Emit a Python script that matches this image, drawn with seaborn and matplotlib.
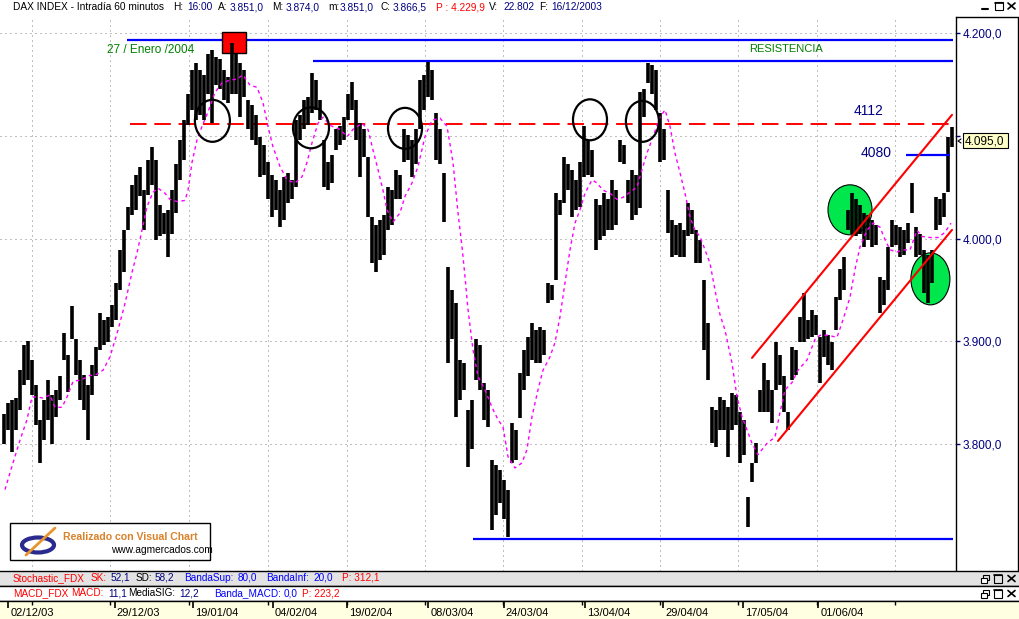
import matplotlib
matplotlib.use("Agg")
import matplotlib.pyplot as plt
import seaborn as sns
import numpy as np
from matplotlib.patches import Ellipse, Rectangle
from matplotlib.lines import Line2D

# ---------------- data (hourly bars) ----------------
bar_high = [
    3829, 3840, 3843, 3845, 3872, 3897, 3900, 3882, 3858, 3824,
    3843, 3863, 3848, 3853, 3866, 3908, 3887, 3934, 3902, 3882,
    3867, 3858, 3877, 3895, 3928, 3921, 3924, 3935, 3957, 3989,
    4008, 4031, 4052, 4062, 4070, 4047, 4076, 4089, 4076, 4033,
    4025, 4028, 4047, 4072, 4096, 4115, 4140, 4164, 4171, 4164,
    4159, 4179, 4183, 4176, 4174, 4164, 4157, 4190, 4179, 4171,
    4164, 4135, 4130, 4120, 4099, 4091, 4074, 4062, 4057, 4047,
    4060, 4064, 4057, 4115, 4120, 4135, 4138, 4161, 4154, 4135,
    4096, 4074, 4081, 4106, 4109, 4118, 4140, 4152, 4135, 4112,
    4106, 4079, 4021, 4013, 4018, 4023, 4050, 4047, 4067, 4062,
    4106, 4101, 4096, 4106, 4154, 4159, 4172, 4164, 4122, 4106,
    4064, 3972, 3950, 3937, 3882, 3879, 3833, 3843, 3902, 3897,
    3860, 3853, 3785, 3780, 3775, 3765, 3756, 3821, 3814, 3869,
    3892, 3904, 3918, 3911, 3914, 3911, 3957, 3955, 4044, 4037,
    4079, 4072, 4067, 4057, 4074, 4109, 4096, 4086, 4038, 4033,
    4044, 4038, 4057, 4047, 4096, 4091, 4057, 4067, 4062, 4142,
    4145, 4171, 4169, 4164, 4122, 4106, 4047, 4018, 4013, 4015,
    4008, 4035, 4028, 4008, 3999, 3960, 3918, 3836, 3833, 3846,
    3843, 3836, 3850, 3848, 3831, 3824, 3749, 3782, 3801, 3853,
    3879, 3863, 3853, 3899, 3887, 3866, 3831, 3895, 3892, 3924,
    3947, 3921, 3931, 3926, 3904, 3911, 3906, 3899, 3943, 3970,
    3982, 4028, 4044, 4038, 4033, 4025, 4023, 4018, 4013, 3963,
    3960, 3992, 4018, 4013, 4011, 4008, 4015, 4054, 4011, 4004,
    3989, 3984, 3989, 4040, 4038, 4044, 4099, 4108,
]
bar_low = [
    3800, 3814, 3793, 3814, 3833, 3858, 3863, 3848, 3819, 3782,
    3804, 3824, 3800, 3827, 3843, 3882, 3851, 3902, 3867, 3843,
    3833, 3804, 3848, 3866, 3892, 3897, 3899, 3914, 3921, 3950,
    3967, 4008, 4023, 4028, 4041, 4008, 4042, 4052, 3999, 4002,
    4004, 3982, 4004, 4025, 4057, 4076, 4110, 4125, 4115, 4120,
    4115, 4140, 4112, 4149, 4145, 4135, 4132, 4140, 4140, 4118,
    4138, 4106, 4096, 4091, 4060, 4062, 4038, 4021, 4028, 4011,
    4018, 4035, 4038, 4050, 4096, 4106, 4110, 4122, 4125, 4115,
    4050, 4047, 4054, 4086, 4091, 4096, 4115, 4125, 4096, 4060,
    4079, 4021, 3976, 3967, 3979, 3984, 4008, 4013, 4038, 4038,
    4074, 4076, 4060, 4072, 4106, 4125, 4138, 4135, 4076, 4072,
    4016, 3879, 3902, 3827, 3843, 3853, 3778, 3795, 3863, 3853,
    3824, 3817, 3717, 3731, 3743, 3727, 3710, 3782, 3785, 3826,
    3853, 3866, 3882, 3879, 3879, 3887, 3937, 3940, 3960, 4023,
    4035, 4047, 4021, 4028, 4031, 4060, 4062, 4060, 3989, 3999,
    4002, 4008, 4008, 4013, 4074, 4072, 4035, 4018, 4023, 4030,
    4118, 4151, 4140, 4125, 4074, 4076, 4005, 3982, 3984, 3982,
    3982, 4002, 4004, 3976, 3976, 3892, 3863, 3801, 3797, 3814,
    3814, 3788, 3814, 3819, 3782, 3790, 3720, 3763, 3782, 3831,
    3831, 3831, 3821, 3853, 3858, 3831, 3814, 3863, 3867, 3899,
    3899, 3902, 3904, 3906, 3860, 3885, 3877, 3872, 3911, 3940,
    3950, 4008, 4004, 4002, 4004, 3992, 3999, 3992, 3994, 3928,
    3935, 3950, 3992, 3994, 3982, 3984, 3996, 4025, 3982, 3984,
    3947, 3937, 3957, 4008, 4013, 4021, 4045, 4089,
]

# moving average (magenta dotted), position in bar units
ma_pos = [
    0.25, 2.25, 4, 5.75, 7, 8.25, 9.75, 11.5, 12.75, 14.5,
    15.75, 17.25, 19.5, 21.5, 22.75, 24.75, 26.5, 28.5, 30.25, 32,
    33.25, 34.5, 35.75, 37.25, 38.5, 40.25, 41.5, 43.25, 45.25, 46,
    47, 48.25, 49.5, 51, 52.75, 54.5, 56.5, 58.25, 59.75, 61.5,
    63.25, 64.75, 66, 67.25, 69, 70.75, 72.75, 74.5, 75.75, 77,
    78.5, 79.75, 81.5, 84, 85.75, 87.25, 89.5, 91, 92.25, 93.5,
    94.75, 95.75, 97.25, 99, 100.25, 102, 103.5, 105.25, 107, 109,
    110.75, 112.25, 113.5, 114.5, 115.25, 116, 117.25, 118.5, 120.25, 122,
    123.5, 124.75, 126, 127.75, 129.5, 130.75, 132, 133.5, 134.75, 136.5,
    137.75, 139, 140.25, 141.5, 142.75, 144, 145.25, 147, 148.25, 149.75,
    151.5, 153.25, 154.75, 156.5, 158.25, 159.5, 160.75, 162.25, 164, 165.25,
    166.5, 167.75, 169, 170.25, 171.5, 172.75, 174, 175.25, 176.5, 177.75,
    179, 180.25, 182, 183.25, 184.5, 185.75, 187, 188.5, 190.75, 192.75,
    194, 195.25, 197, 198.5, 200.75, 202.75, 204, 206, 208.25, 209.75,
    211.5, 212.75, 214, 215.75, 217.25, 219, 220.25, 221.5, 223.25, 224.75,
    226.5, 228.25, 229.5, 231.5, 233.5, 235.25, 236.75,
]
ma_val = [
    3756, 3782, 3804, 3824, 3846, 3846, 3845, 3848, 3836, 3836,
    3846, 3861, 3863, 3867, 3867, 3872, 3885, 3911, 3937, 3967,
    3986, 4008, 4031, 4045, 4049, 4044, 4038, 4036, 4037, 4047,
    4074, 4096, 4109, 4123, 4142, 4151, 4154, 4155, 4159, 4149,
    4147, 4132, 4109, 4089, 4070, 4057, 4054, 4060, 4074, 4093,
    4112, 4118, 4110, 4106, 4099, 4106, 4112, 4106, 4086, 4067,
    4047, 4028, 4016, 4025, 4041, 4054, 4070, 4099, 4115, 4117,
    4109, 4074, 4025, 3992, 3963, 3931, 3892, 3866, 3853, 3836,
    3824, 3817, 3788, 3777, 3782, 3795, 3827, 3853, 3872, 3885,
    3899, 3924, 3957, 3989, 4015, 4028, 4044, 4057, 4054, 4047,
    4044, 4038, 4040, 4045, 4050, 4067, 4083, 4099, 4118, 4125,
    4109, 4083, 4064, 4044, 4021, 4008, 4002, 3989, 3976, 3950,
    3926, 3911, 3879, 3846, 3827, 3814, 3801, 3790, 3801, 3807,
    3831, 3853, 3860, 3872, 3882, 3902, 3906, 3906, 3904, 3921,
    3943, 3970, 3992, 4008, 4015, 4011, 3999, 3989, 3987, 3989,
    3989, 4008, 4002, 4001, 4001, 4006, 4015,
]

price_ticks = [3800, 3900, 4000, 4100, 4200]
price_labels = ["3.800,0", "3.900,0", "4.000,0", "", "4.200,0"]  # 4.100,0 hidden under the last-price box
last_price = "4.095,0"

date_pos = [1.1, 27.75, 47.3, 67.3, 85.7, 106.1, 125, 145.25, 164.8, 184.8, 203.6]
date_labels = ["02/12/03", "29/12/03", "19/01/04", "04/02/04", "19/02/04",
               "08/03/04", "24/03/04", "13/04/04", "29/04/04", "17/05/04", "01/06/04"]
grid_pos = [7, 26.5, 46.25, 66, 85.75, 105.25, 124.75, 144.5, 164, 183.5, 203.25, 222.75]

# annotation levels
res_top = 4193          # upper blue line
res_mid = 4173          # RESISTENCIA
level_4112 = 4111.5     # red dashed
support = 3708          # bottom blue line
level_4080 = 4081.5

# ---------------- style ----------------
sns.set_theme(style="white")
plt.rcParams['font.family'] = ['Liberation Sans', 'DejaVu Sans']

W, H = 1020, 619
fig = plt.figure(figsize=(W / 100, H / 100), dpi=100)
fig.patch.set_facecolor('white')


def fx(px):
    return px / W


def fy(py):
    return 1 - py / H


def ftext(px, py, s, **kw):
    kw.setdefault('va', 'center')
    kw.setdefault('ha', 'left')
    fig.text(fx(px), fy(py), s, **kw)


NAVY = '#000080'
RED = '#FF0000'
BLUE = '#0000FF'
GREEN = '#008000'

# ---------------- main price panel ----------------
ax = fig.add_axes([0, fy(571), 956 / W, (571 - 17) / H])
ax.set_facecolor('white')
ax.set_xlim(-1, 238)
ax.set_ylim(3676.9, 4215.3)

for g in grid_pos:
    ax.axvline(g, color='#808080', lw=0.72, ls=(0, (1, 4)), zorder=0)
for p in price_ticks:
    ax.axhline(p, color='#808080', lw=0.72, ls=(0, (1, 4)), zorder=0)

# horizontal levels
ax.hlines(res_top, 30.75, 237.25, color=BLUE, lw=1.6, zorder=1)
ax.hlines(res_mid, 77.25, 237.25, color=BLUE, lw=1.6, zorder=1)
ax.hlines(support, 117.25, 237.25, color=BLUE, lw=1.6, zorder=1)
ax.hlines(level_4080, 225.4, 236.5, color=BLUE, lw=1.6, zorder=6)
ax.hlines(level_4112, 31.5, 237.25, color=RED, lw=1.4, linestyles=[(0, (8.5, 4))], zorder=1)

# red marker box (27 / Enero / 2004)
ax.add_patch(Rectangle((54.5, 4180.5), 6, 20.4, facecolor=RED, edgecolor='black', lw=1, zorder=2))

# green ellipses (behind bars)
for (cx, cy, w, h) in [(211.5, 4027.9, 11, 48.6), (231.6, 3960.8, 9.75, 50.5)]:
    ax.add_patch(Ellipse((cx, cy), w, h, facecolor='#00E64D', edgecolor='black', lw=0.8, zorder=2))

# price bars
k = np.arange(len(bar_high))
ax.vlines(k, bar_low, bar_high, color='black', lw=2.6, zorder=3)

# moving average
sns.lineplot(x=ma_pos, y=ma_val, ax=ax, color='#FF00FF', lw=1.0,
             linestyle=(0, (2.5, 2.5)), sort=False, estimator=None, zorder=4)

# black circles
for (cx, cy, w, h) in [(52.1, 4114.4, 8.75, 40.8), (76.75, 4107.6, 9, 39.8),
                       (100.25, 4107.1, 8.5, 39.8), (146.5, 4115.4, 8.5, 39.8),
                       (159.6, 4113.9, 8.25, 39.8)]:
    ax.add_patch(Ellipse((cx, cy), w, h, fill=False, edgecolor='black', lw=1.6, zorder=5))

# red channel
ax.plot([187, 237], [3884, 4120.2], color=RED, lw=1.5, zorder=6)
ax.plot([193.5, 237], [3803.3, 4008.4], color=RED, lw=1.5, zorder=6)

# texts
ax.text(25.75, 4183.6, "27 / Enero /2004", color=GREEN, fontsize=8.5, va='center', ha='left')
ax.text(186.25, 4183.9, "RESISTENCIA", color=GREEN, fontsize=8, va='center', ha='left')
ax.text(212.4, 4123.6, "4112", color=NAVY, fontsize=10, va='center', ha='left')
ax.text(214.2, 4083.5, "4080", color=NAVY, fontsize=10, va='center', ha='left')

ax.set_xticks([])
ax.yaxis.tick_right()
ax.set_yticks(price_ticks)
ax.set_yticklabels(price_labels)
ax.tick_params(axis='y', which='both', right=True, left=False, length=3, width=1,
               color=NAVY, labelcolor=NAVY, labelsize=8.5, pad=1.5, direction='out')
for s in ['left', 'top', 'bottom']:
    ax.spines[s].set_visible(False)
ax.spines['right'].set_color('black')
ax.spines['right'].set_linewidth(1)
ax.set_xlabel('')
ax.set_ylabel('')
if ax.get_legend():
    ax.get_legend().remove()

# right scale border
fig.add_artist(Line2D([fx(956), fx(1018)], [fy(17), fy(17)], color='black', lw=1))
fig.add_artist(Line2D([fx(1018), fx(1018)], [fy(17), fy(571)], color='black', lw=1))

# last price box
fig.add_artist(Rectangle((fx(963), fy(148)), 45 / W, 15 / H, transform=fig.transFigure,
                         facecolor='#FFFFC8', edgecolor='black', lw=0.8, zorder=10))
ftext(965, 141, last_price, color='black', fontsize=8.5, zorder=11)
fig.add_artist(Line2D([fx(961), fx(958), fx(961)], [fy(139), fy(141), fy(143)],
                      color='black', lw=0.8, zorder=11))

# logo box
fig.add_artist(Rectangle((fx(10), fy(560)), 200 / W, 37 / H, transform=fig.transFigure,
                         facecolor='white', edgecolor='black', lw=1, zorder=10))
fig.add_artist(Ellipse((fx(38), fy(545)), 32 / W, 15 / H, transform=fig.transFigure,
                       fill=False, edgecolor='#2B2B8F', lw=3, zorder=11))
fig.add_artist(Line2D([fx(26), fx(55)], [fy(555), fy(528)], color='#E8952F', lw=2, zorder=12))
ftext(63, 537.5, "Realizado con Visual Chart", color='#D9822B', fontsize=7.6,
      fontweight='bold', zorder=12)
ftext(111, 550, "www.agmercados.com", color='black', fontsize=7.3, zorder=12)

# ---------------- title row ----------------
title_items = [("DAX INDEX - Intradía 60 minutos", 13, 'black'),
               ("H:", 173, 'black'), ("16:00", 187, NAVY),
               ("A:", 218, 'black'), ("3.851,0", 230, NAVY),
               ("M:", 272, 'black'), ("3.874,0", 286, NAVY),
               ("m:", 328, 'black'), ("3.851,0", 340, NAVY),
               ("C:", 381, 'black'), ("3.866,5", 393, NAVY),
               ("P : 4.229,9", 436, RED),
               ("V:", 489, 'black'), ("22.802", 503, NAVY),
               ("F:", 539, 'black'), ("16/12/2003", 551, NAVY)]
for s, px, c in title_items:
    ftext(px, 7.5, s, color=c, fontsize=7.3)


def icon_min(x, y):
    fig.add_artist(Line2D([fx(x), fx(x + 6)], [fy(y + 3), fy(y + 3)], color='black', lw=1.5))


def icon_box(x, y):
    fig.add_artist(Rectangle((fx(x), fy(y + 4)), 8 / W, 8 / H, transform=fig.transFigure,
                             fill=False, edgecolor='black', lw=0.8))
    fig.add_artist(Line2D([fx(x), fx(x + 8)], [fy(y - 3.5), fy(y - 3.5)], color='black', lw=1.2))


def icon_restore(x, y):
    fig.add_artist(Rectangle((fx(x + 2), fy(y + 1)), 6 / W, 5 / H, transform=fig.transFigure,
                             fill=False, edgecolor='black', lw=0.8))
    fig.add_artist(Rectangle((fx(x), fy(y + 4)), 6 / W, 5 / H, transform=fig.transFigure,
                             facecolor='white', edgecolor='black', lw=0.8))


def icon_close(x, y):
    fig.add_artist(Line2D([fx(x), fx(x + 7)], [fy(y - 3), fy(y + 3)], color='black', lw=1.2))
    fig.add_artist(Line2D([fx(x), fx(x + 7)], [fy(y + 3), fy(y - 3)], color='black', lw=1.2))


icon_min(982, 6)
icon_box(995, 6)
icon_close(1008, 6)

# ---------------- indicator header strips ----------------
ax_st = fig.add_axes([0, fy(586), 1, 15 / H])
ax_st.set_facecolor('#E3E3E3')
ax_mc = fig.add_axes([0, fy(601), 1, 15 / H])
ax_mc.set_facecolor('white')
for a in (ax_st, ax_mc):
    a.set_xticks([])
    a.set_yticks([])
    for s in ['left', 'right']:
        a.spines[s].set_visible(False)
    for s in ['top', 'bottom']:
        a.spines[s].set_visible(True)
        a.spines[s].set_color('black')
        a.spines[s].set_linewidth(1)

stoch_items = [("Stochastic_FDX", 13, RED), ("SK:", 91, RED), ("52,1", 111, NAVY),
               ("SD:", 136, 'black'), ("58,2", 155, NAVY), ("BandaSup:", 184, BLUE),
               ("80,0", 238, BLUE), ("BandaInf:", 266, BLUE), ("20,0", 313, BLUE),
               ("P: 312,1", 342, RED)]
for s, px, c in stoch_items:
    ftext(px, 578, s, color=c, fontsize=7.2)
macd_items = [("MACD_FDX", 13, RED), ("MACD:", 71, RED), ("11,1", 108, NAVY),
              ("MediaSIG:", 128, 'black'), ("12,2", 179, NAVY), ("Banda_MACD:", 214, BLUE),
              ("0,0", 284, BLUE), ("P: 223,2", 302, RED)]
for s, px, c in macd_items:
    ftext(px, 593.5, s, color=c, fontsize=7.2)

for yy in (578.5, 593.5):
    icon_restore(981, yy)
    icon_box(994, yy)
    icon_close(1008, yy)

# ---------------- date axis ----------------
ax_d = fig.add_axes([0, 0, 1, 18 / H])
ax_d.set_facecolor('#FFFFE1')
ax_d.set_xlim(-1, 254)
ax_d.set_ylim(0, 1)
ax_d.set_xticks([])
ax_d.set_yticks([])
for s in ['left', 'right', 'bottom']:
    ax_d.spines[s].set_visible(False)
ax_d.spines['top'].set_color('black')
ax_d.spines['top'].set_linewidth(1)
ax_d.vlines(grid_pos, 0.78, 1.0, color='black', lw=1)
ax_d.vlines(date_pos, 0.62, 1.0, color='black', lw=1.2)
for p, lab in zip(date_pos, date_labels):
    ax_d.text(p + 0.45, 0.36, lab, color='black', fontsize=8, va='center', ha='left')

fig.savefig("out.png", dpi=100)
